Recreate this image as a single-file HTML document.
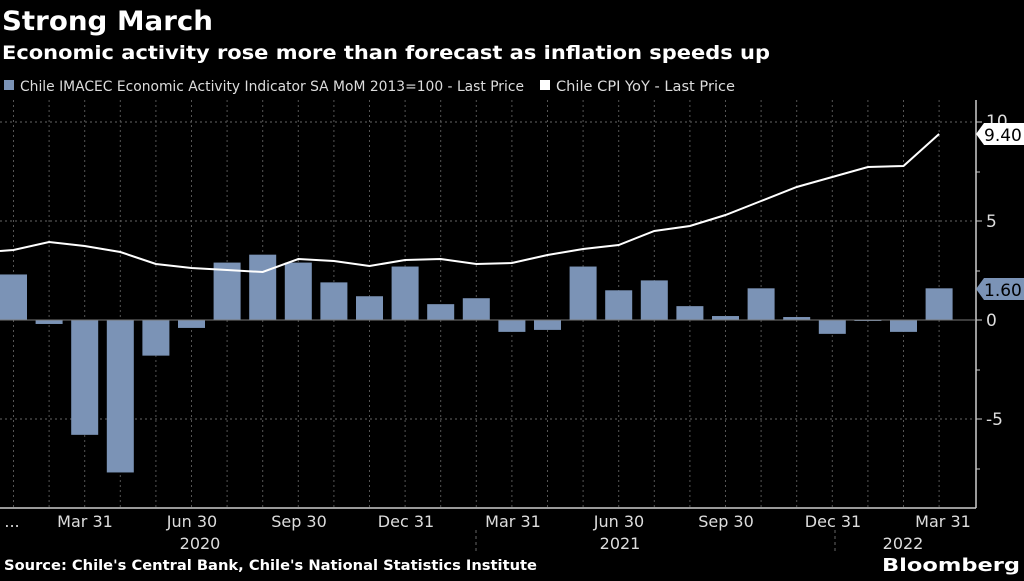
<!DOCTYPE html><html><head><style>
body{margin:0;background:#000;width:1024px;height:576px;overflow:hidden;font-family:"Liberation Sans",sans-serif;color:#fff}
</style></head><body>
<svg width="1024" height="576" xmlns="http://www.w3.org/2000/svg" font-family="DejaVu Sans, Liberation Sans, sans-serif">
<text x="2" y="30" font-size="27" font-weight="bold" fill="#fff" textLength="211" lengthAdjust="spacingAndGlyphs">Strong March</text>
<text x="2" y="59" font-size="19" font-weight="bold" fill="#fff" textLength="768" lengthAdjust="spacingAndGlyphs">Economic activity rose more than forecast as inflation speeds up</text>
<rect x="4" y="80" width="10" height="10" fill="#7b93b6"/>
<text x="20" y="91" font-size="14" fill="#ddd" textLength="504" lengthAdjust="spacingAndGlyphs">Chile IMACEC Economic Activity Indicator SA MoM 2013=100 - Last Price</text>
<rect x="540" y="80" width="10" height="10" fill="#fff"/>
<text x="556" y="91" font-size="14" fill="#ddd" textLength="179" lengthAdjust="spacingAndGlyphs">Chile CPI YoY - Last Price</text>
<g stroke="#666" stroke-dasharray="2,3" stroke-width="1">
<line x1="0" y1="122" x2="975" y2="122"/><line x1="0" y1="221" x2="975" y2="221"/>
<line x1="0" y1="419" x2="975" y2="419"/>
</g>
<g id="vg" stroke="#555" stroke-dasharray="2,3" stroke-width="1"></g>
<g id="bars" fill="#7b93b6"></g>
<line x1="0" y1="320" x2="975" y2="320" stroke="#777" stroke-width="1"/>
<polyline id="cpi" fill="none" stroke="#fff" stroke-width="2"/>
<line x1="976" y1="100" x2="976" y2="508" stroke="#ccc" stroke-width="1.5"/>
<line x1="0" y1="508" x2="976" y2="508" stroke="#ccc" stroke-width="1.5"/>
<g stroke="#ccc"><line x1="976" y1="122" x2="982" y2="122"/><line x1="976" y1="172" x2="980" y2="172"/><line x1="976" y1="221" x2="982" y2="221"/><line x1="976" y1="271" x2="980" y2="271"/><line x1="976" y1="320" x2="982" y2="320"/><line x1="976" y1="370" x2="980" y2="370"/><line x1="976" y1="419" x2="982" y2="419"/><line x1="976" y1="469" x2="980" y2="469"/></g>
<g font-size="17" fill="#ddd"><text x="986" y="127">10</text><text x="986" y="227">5</text><text x="986" y="326">0</text><text x="986" y="425">-5</text></g>
<path d="M976 134 l8 -11 h40 v22 h-40 z" fill="#fff"/>
<text x="984" y="141" font-size="17" fill="#000">9.40</text>
<path d="M976 289 l8 -11 h40 v22 h-40 z" fill="#7b93b6"/>
<text x="984" y="296" font-size="17" fill="#000">1.60</text>
<g font-size="16" fill="#ddd" text-anchor="middle">
<text x="12" y="527">...</text><text x="85" y="527">Mar 31</text><text x="192" y="527">Jun 30</text><text x="299" y="527">Sep 30</text><text x="406" y="527">Dec 31</text><text x="513" y="527">Mar 31</text><text x="619" y="527">Jun 30</text><text x="726" y="527">Sep 30</text><text x="833" y="527">Dec 31</text><text x="943" y="527">Mar 31</text>
<text x="200" y="549">2020</text><text x="620" y="549">2021</text><text x="903" y="549">2022</text></g>
<g stroke="#666" stroke-dasharray="3,3"><line x1="476" y1="530" x2="476" y2="553"/><line x1="835" y1="530" x2="835" y2="553"/></g>
<text x="4" y="570" font-size="14" font-weight="bold" fill="#fff" textLength="533" lengthAdjust="spacingAndGlyphs">Source: Chile's Central Bank, Chile's National Statistics Institute</text>
<text x="882" y="571" font-size="18" font-weight="bold" fill="#fff" textLength="138" lengthAdjust="spacingAndGlyphs">Bloomberg</text>
</svg>
<script>
var v=[2.3,-0.2,-5.8,-7.7,-1.8,-0.4,2.9,3.3,2.9,1.9,1.2,2.7,0.8,1.1,-0.6,-0.5,2.7,1.5,2.0,0.7,0.2,1.6,0.15,-0.7,-0.05,-0.6,1.6];
var cy=[250,242,246,252,264,268,270,272,259,261,266,260,259,264,263,255,249,245,231,226,215,201,187,177,167,166,134];
var ns="http://www.w3.org/2000/svg",b=document.getElementById('bars'),g=document.getElementById('vg'),pts="0,251 ";
for(var i=0;i<27;i++){var c=13.5+35.6*i,y=320-19.8*v[i];var r=document.createElementNS(ns,'rect');r.setAttribute('x',c-13.5);r.setAttribute('width',27);r.setAttribute('y',Math.min(y,320));r.setAttribute('height',Math.max(Math.abs(320-y),1));b.appendChild(r);
var l=document.createElementNS(ns,'line');l.setAttribute('x1',c);l.setAttribute('x2',c);l.setAttribute('y1',100);l.setAttribute('y2',508);g.appendChild(l);
pts+=c+","+cy[i]+" ";}
document.getElementById('cpi').setAttribute('points',pts);
</script>
</body></html>
